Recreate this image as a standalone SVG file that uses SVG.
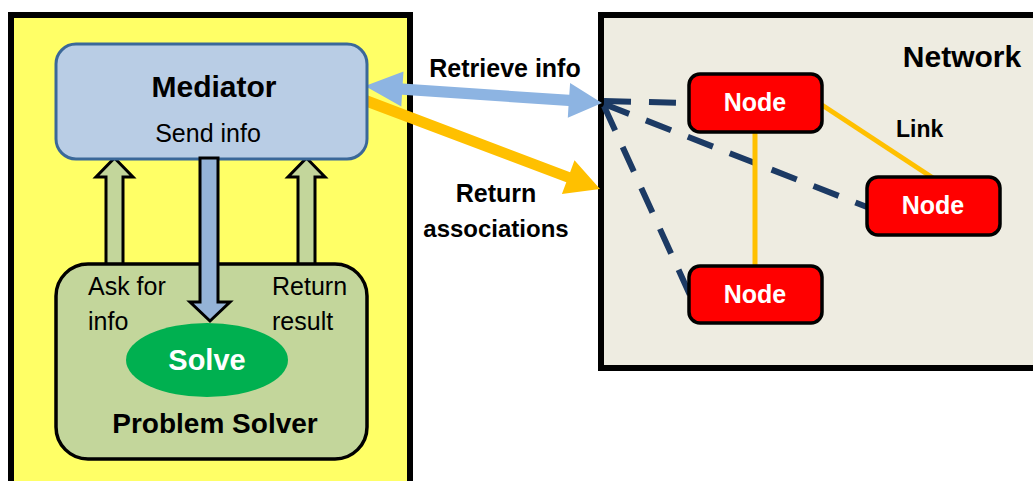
<svg xmlns="http://www.w3.org/2000/svg" width="1033" height="481" viewBox="0 0 1033 481">
  <style>
    text { font-family: "Liberation Sans", Arial, sans-serif; fill: #000; }
    .b { font-weight: bold; }
    .c { text-anchor: middle; }
    .frame { stroke: #000; stroke-width: 6; }
    .blk { stroke: #000; stroke-width: 3; stroke-linejoin: miter; }
    .node rect { fill: #ff0000; stroke: #000; stroke-width: 3.5; }
    .node text { fill: #fff; font-weight: bold; font-size: 25px; text-anchor: middle; }
    .dash { stroke: #1c3a64; stroke-width: 6; fill: none; stroke-dasharray: 27 18; }
    .link { stroke: #ffc000; stroke-width: 5; fill: none; }
  </style>
  <rect width="1033" height="481" fill="#fff"/>

  <!-- left panel: mediator / problem solver -->
  <g id="agent-panel">
    <rect x="11" y="15" width="399" height="480" fill="#ffff66" class="frame"/>
  </g>

  <!-- right panel: network -->
  <g id="network-panel">
    <rect x="601" y="15" width="450" height="353" fill="#eeece1" class="frame"/>
    <text x="962" y="67" class="b c" font-size="30">Network</text>
  </g>

  <!-- block arrows between mediator and problem solver -->
  <g id="connectors">
    <!-- ask for info (up) -->
    <polygon points="114.5,158 133,177 123,177 123,266 106,266 106,177 96,177" fill="#c3d69b" class="blk"/>
    <!-- return result (up) -->
    <polygon points="306.5,158 325,177 315,177 315,266 298,266 298,177 288,177" fill="#c3d69b" class="blk"/>

    <!-- retrieve info (double-headed) -->
    <polygon points="365,86 403.5,71.5 402.7,83.5 569.3,94.8 570.1,83 602,103 567.8,117.8 568.5,106 402,94.7 401.3,106.5" fill="#8db4e2"/>
    <!-- return associations -->
    <polygon points="364,106 368,95.5 570.1,172.2 574.5,160.3 600,189 561.9,193.9 566.3,182.3" fill="#ffc000"/>

    <!-- network associations -->
    <line x1="604" y1="101" x2="688" y2="103" class="dash"/>
    <line x1="604" y1="104" x2="867" y2="207" class="dash"/>
    <line x1="604" y1="106" x2="690" y2="295" class="dash"/>

    <!-- links between nodes -->
    <line x1="822" y1="105" x2="933" y2="178" class="link"/>
    <line x1="755" y1="132" x2="755" y2="266" class="link"/>
    <text x="896" y="137" class="b" font-size="23">Link</text>
  </g>

  <g id="mediator">
    <rect x="56" y="44" width="311" height="115" rx="20" fill="#b9cde5" stroke="#3b6899" stroke-width="3"/>
    <text x="214" y="97" class="b c" font-size="30">Mediator</text>
    <text x="208" y="142" class="c" font-size="25">Send info</text>
  </g>

  <g id="problem-solver">
    <rect x="56" y="264" width="311" height="195" rx="32" fill="#c3d69b" stroke="#000" stroke-width="3.5"/>
    <text x="88" y="295" font-size="25">Ask for</text>
    <text x="88" y="330" font-size="25">info</text>
    <text x="272" y="295" font-size="25">Return</text>
    <text x="272" y="330" font-size="25">result</text>
    <text x="215" y="433" class="b c" font-size="28">Problem Solver</text>
  </g>

  <!-- send info (down) -->
  <g id="send-arrow">
    <polygon points="200,158 218,158 218,302 230,302 210,321 190,302 200,302" fill="#95b3d7" class="blk"/>
  </g>

  <g id="solve">
    <ellipse cx="207" cy="360" rx="81" ry="37" fill="#00b050"/>
    <text x="207" y="370" class="b c" font-size="29" style="fill:#fff">Solve</text>
  </g>

  <g id="edge-labels">
    <text x="505" y="77" class="b c" font-size="25">Retrieve info</text>
    <text x="496" y="202" class="b c" font-size="25">Return</text>
    <text x="496" y="237" class="b c" font-size="24">associations</text>
  </g>

  <g id="node-1" class="node">
    <rect x="689" y="74" width="133" height="58" rx="11"/>
    <text x="755" y="111">Node</text>
  </g>
  <g id="node-2" class="node">
    <rect x="867" y="177" width="133" height="58" rx="11"/>
    <text x="933" y="214">Node</text>
  </g>
  <g id="node-3" class="node">
    <rect x="689" y="266" width="133" height="57" rx="11"/>
    <text x="755" y="303">Node</text>
  </g>
</svg>
